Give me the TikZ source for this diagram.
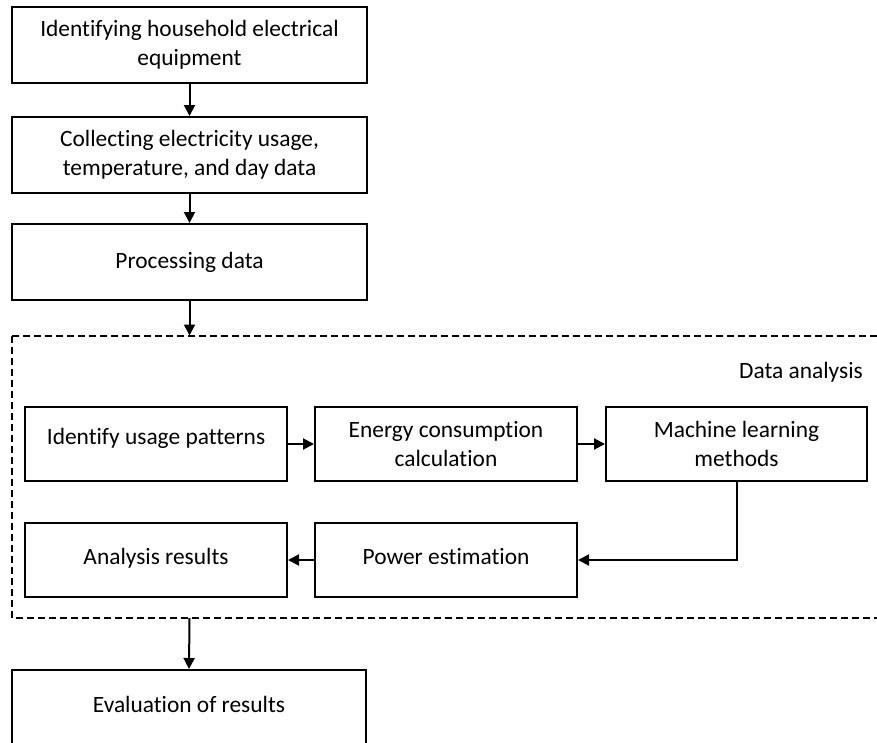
\documentclass[tikz,border=0pt]{standalone}
\usepackage{fontspec}
\setmainfont{Carlito}[Ligatures=NoCommon]
\usetikzlibrary{arrows.meta}
\newcommand{\twolines}[3]{\raisebox{#1}{\begin{tabular}{@{}c@{}}#2\\#3\end{tabular}}}
\tikzset{
  box/.style={draw, line width=2pt, minimum height=74pt, inner sep=0pt, align=center,
    font=\fontsize{23.4pt}{29pt}\selectfont},
  wide/.style={box, minimum width=355pt, minimum height=76pt},
  inbox/.style={box, minimum width=262pt},
  conn/.style={line width=2pt, -{Triangle[length=11pt,width=11pt]}},
  frame/.style={line width=2pt, dash pattern=on 7pt off 4pt},
  lbl/.style={font=\fontsize{23.4pt}{29pt}\selectfont, inner sep=0pt}
}
\begin{document}
\begin{tikzpicture}[x=1pt,y=-1pt]
\clip (0,0) rectangle (877,742);
\fill[white] (0,0) rectangle (877,742);

\node[wide] (b1) at (189.5,45) {\twolines{-4pt}{Identifying household electrical}{equipment}};
\node[wide] (b2) at (189.5,155) {\twolines{-6pt}{Collecting electricity usage,}{temperature, and day data}};
\node[wide] (b3) at (189.5,262) {Processing data};

\coordinate (dtop) at (189.5,335.5);
\coordinate (dbot) at (189.5,618);
\coordinate (fTL) at (12.3,335.5);
\coordinate (fBL) at (12.3,618);
\coordinate (fTR) at (877,335.5);
\coordinate (fBR) at (877,618);
\draw[frame] (fTL) -- (fTR);
\draw[frame] (fTL) -- (fBL) -- (fBR);

\node[lbl, anchor=east] (dalabel) at (863,372) {Data analysis};

\node[inbox] (ident) at (156,444) {\raisebox{15pt}{Identify usage patterns}};
\node[inbox] (energy) at (446,444) {Energy consumption\\calculation};
\node[inbox, minimum width=261pt] (mach) at (736.5,444) {Machine learning\\methods};
\node[inbox] (anal) at (156,560) {\raisebox{8pt}{Analysis results}};
\node[inbox] (power) at (446,560) {\raisebox{8pt}{Power estimation}};

\node[wide, minimum width=354pt] (eval) at (189,708) {\raisebox{8pt}{Evaluation of results}};

\draw[conn] (b1) -- (b2);
\draw[conn] (b2) -- (b3);
\draw[conn] (b3) -- (dtop);
\draw[conn] (ident) -- (energy);
\draw[conn] (energy) -- (mach);
\draw[conn] (mach.south) |- (power.east);
\draw[conn] (power) -- (anal);
\draw[conn] (dbot) -- (eval.north);
\end{tikzpicture}
\end{document}
